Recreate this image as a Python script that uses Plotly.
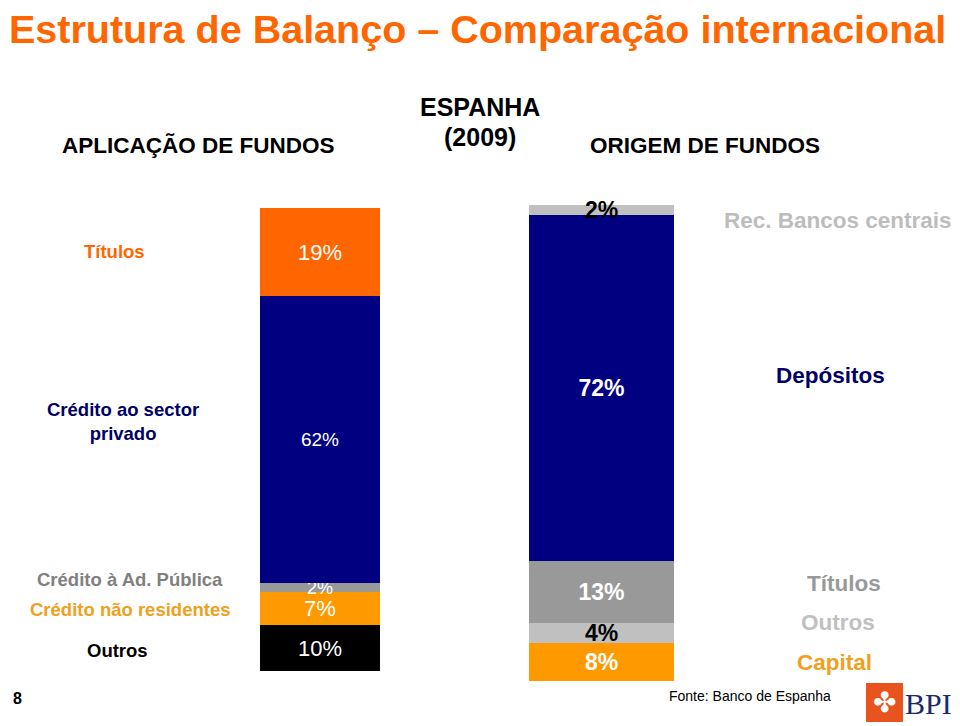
import plotly.graph_objects as go

# ---- data ----
left_labels = ["Outros", "Crédito não residentes", "Crédito à Ad. Pública",
               "Crédito ao sector privado", "Títulos"]
left_values = [10, 7, 2, 62, 19]

right_labels = ["Capital", "Outros", "Títulos", "Depósitos", "Rec. Bancos centrais"]
right_values = [8, 4, 13, 72, 2]

# ---- styles ----
left_colors = ["#000000", "#FF9900", "#999999", "#000080", "#FF6600"]
left_text_colors = ["#FFFFFF", "#FFFFFF", "#FFFFFF", "#FFFFFF", "#FFFFFF"]
left_text_sizes = [22, 22, 18, 19, 22]

right_colors = ["#FF9900", "#C0C0C0", "#999999", "#000080", "#C0C0C0"]
right_text_colors = ["#FFFFFF", "#000000", "#FFFFFF", "#FFFFFF", "#000000"]

# page has an 8px body margin: shift everything by it
OFF = 8
W, H = 960 - OFF, 726 - OFF
SANS = "Liberation Sans, Arial, sans-serif"


def px(x):
    return (x - OFF) / W


def py(y):
    return 1 - (y - OFF) / H


fig = go.Figure()

for lab, v, c, tc, ts in zip(left_labels, left_values, left_colors,
                             left_text_colors, left_text_sizes):
    fig.add_trace(go.Bar(
        x=["Aplicação"], y=[v], name=lab, marker=dict(color=c, line=dict(width=0)),
        text=[f"{v}%"], textposition="inside", insidetextanchor="middle",
        constraintext="none", textangle=0, cliponaxis=False,
        textfont=dict(family=SANS, size=ts, color=tc),
        xaxis="x", yaxis="y", hoverinfo="skip"))

for lab, v, c, tc in zip(right_labels, right_values, right_colors, right_text_colors):
    fig.add_trace(go.Bar(
        x=["Origem"], y=[v], name=lab, marker=dict(color=c, line=dict(width=0)),
        text=[f"<b>{v}%</b>"], textposition="inside", insidetextanchor="middle",
        constraintext="none", textangle=0, cliponaxis=False,
        textfont=dict(family=SANS, size=23, color=tc),
        xaxis="x2", yaxis="y2", hoverinfo="skip"))

hidden = dict(visible=False, showgrid=False, zeroline=False, fixedrange=True)

fig.update_layout(
    width=W, height=H, margin=dict(l=0, r=0, t=0, b=0),
    paper_bgcolor="white", plot_bgcolor="rgba(0,0,0,0)",
    barmode="stack", bargap=0, showlegend=False,
    xaxis=dict(domain=[px(260), px(380)], anchor="y", **hidden),
    yaxis=dict(domain=[py(671), py(208)], range=[0, sum(left_values)], anchor="x", **hidden),
    xaxis2=dict(domain=[px(529), px(674)], anchor="y2", **hidden),
    yaxis2=dict(domain=[py(681), py(205)], range=[0, sum(right_values)], anchor="x2", **hidden),
)

ann = []


def text(x, y, s, size, color, family=SANS, bold=False, xanchor="center",
         yanchor="middle"):
    if bold:
        s = f"<b>{s}</b>"
    ann.append(dict(x=px(x), y=py(y), xref="paper", yref="paper", text=s,
                    showarrow=False, xanchor=xanchor, yanchor=yanchor,
                    borderpad=0,
                    font=dict(family=family, size=size, color=color)))


# title
text(8, 6, "Estrutura de Balanço – Comparação internacional", 39.5, "#FF6600",
     bold=True, xanchor="left", yanchor="top")

# headers
text(198, 145, "APLICAÇÃO DE FUNDOS", 22.5, "#000000", bold=True)
text(480, 107, "ESPANHA", 25, "#000000", bold=True)
text(480, 137, "(2009)", 25, "#000000", bold=True)
text(705, 145, "ORIGEM DE FUNDOS", 22.5, "#000000", bold=True)

# left labels
text(114, 251, "Títulos", 18.5, "#FF6600", bold=True)
text(123, 421, "Crédito ao sector<br>privado", 18.5, "#000066", bold=True)
text(130, 579, "Crédito à Ad. Pública", 18.5, "#808080", bold=True)
text(130, 609, "Crédito não residentes", 18.5, "#F0A020", bold=True)
text(117, 650, "Outros", 18.5, "#000000", bold=True)

# right labels
text(838, 220, "Rec. Bancos centrais", 22.5, "#BDBDBD", bold=True)
text(830, 375, "Depósitos", 22.5, "#000066", bold=True)
text(844, 583, "Títulos", 22.5, "#999999", bold=True)
text(838, 622, "Outros", 22.5, "#C0C0C0", bold=True)
text(834, 662, "Capital", 22.5, "#F0A020", bold=True)

# footer
text(12, 698, "8", 16, "#000000", bold=True, xanchor="left")
text(668, 696, "Fonte: Banco de Espanha", 14, "#000000", xanchor="left")

# logo
fig.add_shape(type="rect", xref="paper", yref="paper",
              x0=px(866), x1=px(903), y0=py(722), y1=py(683),
              fillcolor="#E8531E", line=dict(width=0))
text(884.5, 702, "✤", 28, "#FFFFFF", family="DejaVu Sans")
text(904, 703, "BPI", 30, "#1A2A6C", family="Liberation Serif, DejaVu Serif, serif",
     xanchor="left")

fig.update_layout(annotations=ann)
fig.write_html("out.html")
